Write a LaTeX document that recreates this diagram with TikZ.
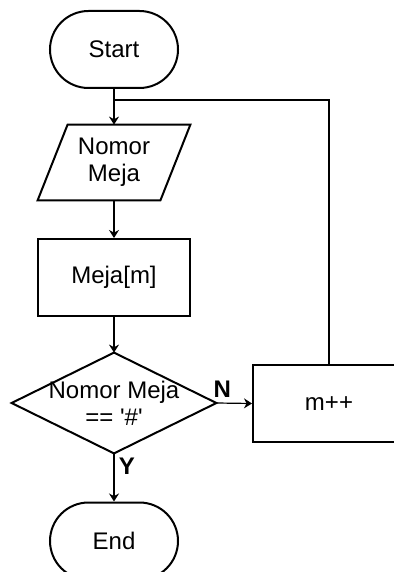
\documentclass[tikz,border=0pt]{standalone}
\usepackage{fontspec}
\setmainfont{Liberation Sans}
\usetikzlibrary{arrows.meta,calc}
\begin{document}
\begin{tikzpicture}[x=0.5pt,y=-0.5pt,
  font=\fontsize{12}{13.5}\selectfont,
  outline/.style={draw=black, line width=1pt},
  terminal/.style={outline, rectangle, rounded corners=19.25pt, minimum width=64pt, minimum height=38.5pt, inner sep=0pt},
  procbox/.style={outline, rectangle, minimum width=76pt, minimum height=38.5pt, inner sep=0pt, align=center},
  frame/.style={rectangle, inner sep=0pt, align=center},
  flow/.style={line width=0.6pt, -{Stealth[length=4pt,width=5pt]}},
  link/.style={line width=0.6pt},
  branch/.style={font=\fontsize{12}{13.5}\selectfont\bfseries, inner sep=0pt}
]
\useasboundingbox (0,0) rectangle (394,572);
\clip (0,0) rectangle (394,572);

% terminals, input, process and decision
\node[terminal] (start) at (114,49.5) {Start};

\node[frame, minimum width=76pt, minimum height=37.5pt] (inp) at (114,162.5) {Nomor\\Meja};
\draw[outline] ($(inp.north west)+(30,0)$) -- (inp.north east)
  -- ($(inp.south east)+(-30,0)$) -- (inp.south west) -- cycle;

\node[procbox] (proc) at (114,277.5) {Meja[m]};

\node[frame, minimum width=102pt, minimum height=50pt] (dec) at (114,403)
  {Nomor Meja\\== \textquotesingle\#\textquotesingle};
\draw[outline] (dec.north) -- (dec.east) -- (dec.south) -- (dec.west) -- cycle;

\node[procbox] (inc) at (329,403.5) {m++};

\node[terminal] (end) at (114,541) {End};

% connectors
\coordinate (join) at (114,100);
\draw[flow] (start) -- (inp);
\draw[link] (inc.north) |- (join);
\draw[flow] (inp) -- (proc);
\draw[flow] (proc) -- (dec);
\draw[flow] (dec.east) -- (inc.west);
\draw[flow] (dec.south) -- (end.north);

% branch labels
\node[branch] (nlab) at ([shift={(6,-14)}]dec.east) {N};
\node[branch] (ylab) at ([shift={(13,13)}]dec.south) {Y};
\end{tikzpicture}
\end{document}
